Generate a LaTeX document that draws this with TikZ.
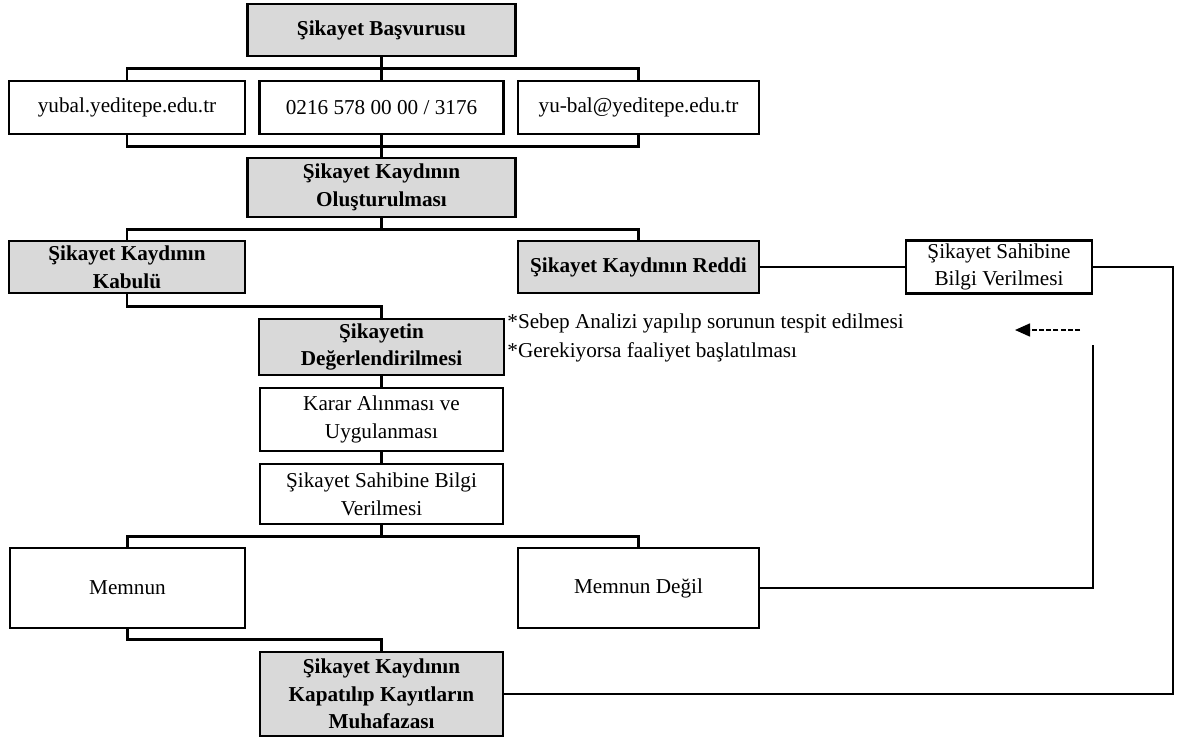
\documentclass[tikz,border=0pt]{standalone}
\usepackage{fontspec}
\setmainfont{Liberation Serif}
\usetikzlibrary{arrows.meta}

\begin{document}
\begin{tikzpicture}[x=1pt,y=-1pt,line width=2.8pt,
	darkbox/.style={rectangle,draw,fill=gray!30,align=center,font=\bfseries\fontsize{21.2}{27.6}\selectfont},
	lightbox/.style={rectangle,draw,fill=white,align=center,font=\fontsize{21.2}{27.6}\selectfont},
	notetext/.style={align=left,inner sep=0pt,font=\fontsize{21.2}{29}\selectfont},
	backarrow/.style={line width=1.6pt,dash pattern=on 5pt off 2.2pt,-{Triangle[length=15pt,width=13pt]}}]
\useasboundingbox (0,0) rectangle (1178,740);
\node[darkbox,minimum width=268,minimum height=52] (basvuru) at (381.5,30) {Şikayet Başvurusu};
\node[lightbox,minimum width=236,minimum height=53] (web) at (127,107.5) {yubal.yeditepe.edu.tr};
\node[lightbox,minimum width=244,minimum height=53] (tel) at (381.5,107.5) {0216 578 00 00 / 3176};
\node[lightbox,minimum width=241,minimum height=53] (mail) at (638.5,107.5) {yu-bal@yeditepe.edu.tr};
\node[darkbox,minimum width=268,minimum height=59] (olustur) at (381.5,187.5) {Şikayet Kaydının\\Oluşturulması};
\node[darkbox,minimum width=236,minimum height=52] (kabul) at (127,267) {Şikayet Kaydının\\Kabulü};
\node[darkbox,minimum width=241,minimum height=52] (red) at (638.5,267) {Şikayet Kaydının Reddi};
\node[lightbox,minimum width=186,minimum height=52] (bilgiA) at (999,267) {Şikayet Sahibine\\Bilgi Verilmesi};
\node[darkbox,minimum width=245,minimum height=56] (deger) at (381.5,347) {Şikayetin\\Değerlendirilmesi};
\node[notetext,anchor=west] (neden) at (506,338) {*Sebep Analizi yapılıp sorunun tespit edilmesi\\*Gerekiyorsa faaliyet başlatılması};
\node[lightbox,minimum width=243,minimum height=63] (karar) at (381.5,419.5) {Karar Alınması ve\\Uygulanması};
\node[lightbox,minimum width=243,minimum height=60] (bilgiB) at (381.5,494) {Şikayet Sahibine Bilgi\\Verilmesi};
\node[lightbox,minimum width=235,minimum height=80] (memnun) at (127.5,588) {Memnun};
\node[lightbox,minimum width=241,minimum height=80] (degil) at (638.5,588) {Memnun Değil};
\node[darkbox,minimum width=243,minimum height=84] (muhafaza) at (381.5,694) {Şikayet Kaydının\\Kapatılıp Kayıtların\\Muhafazası};
\coordinate (corner) at (1173,694);
\coordinate (back) at (1093,345);
\coordinate (arrS) at (1080,330);
\coordinate (arrE) at (1015,330);
\draw (basvuru) -- (tel);
\draw (web.north) -- ++(0,-11) -| (mail.north);
\draw (web.south) -- ++(0,11) -| (mail.south);
\draw (tel) -- (olustur);
\draw (olustur.south) -- ++(0,11) coordinate (split);
\draw (kabul.north) |- (split) -| (red.north);
\draw (kabul.south) -- ++(0,12) -| (deger.north);
\draw (deger) -- (karar);
\draw (karar) -- (bilgiB);
\draw (bilgiB.south) -- ++(0,11) coordinate (split2);
\draw (memnun.north) |- (split2) -| (degil.north);
\draw (memnun.south) -- ++(0,10) -| (muhafaza.north);
\draw (red) -- (bilgiA);
\draw (bilgiA.east) -| (corner) -- (muhafaza.east);
\draw (degil.east) -| (back);
\draw[backarrow] (arrS) -- (arrE);
\end{tikzpicture}
\end{document}
